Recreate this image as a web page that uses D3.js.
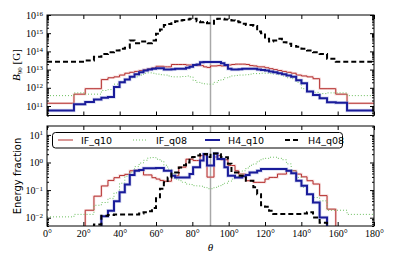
<!DOCTYPE html>
<html>
<head>
<meta charset="utf-8">
<script src="https://cdn.jsdelivr.net/npm/d3@7"></script>
<style>
  body { margin: 0; background: #fff; }
  svg { display: block; }
  .tick text { font-family: "Liberation Serif", "DejaVu Serif", serif; font-size: 10px; fill: #000; }
  .legend text { font-family: "DejaVu Sans", sans-serif; font-size: 9.5px; }
</style>
</head>
<body>
<svg id="chart" width="395" height="263"></svg>
<script>
// bin edges in theta (deg), read from the step positions
const edges = [0, 14.84, 21.04, 25.84, 29.93, 33.56, 36.87, 39.94, 42.83, 45.57, 48.19, 50.70, 53.13,
  55.48, 57.77, 60.00, 62.18, 64.32, 66.42, 68.49, 70.53, 72.54, 74.53, 76.51, 78.46, 80.41, 82.34,
  84.26, 86.18, 88.09, 90, 91.91, 93.82, 95.74, 97.66, 99.59, 101.54, 103.49, 105.47, 107.46, 109.47,
  111.51, 113.58, 115.68, 117.82, 120.00, 122.23, 124.52, 126.87, 129.30, 131.81, 134.43, 137.17,
  140.06, 143.13, 146.44, 150.07, 154.16, 158.96, 165.16, 180];

// top panel: log10 of B_90 [G] per bin
const bIFq10 = [11.15, 11.65, 11.95, 11.95, 12.45, 12.55, 12.6, 12.7, 12.8, 12.85, 12.9, 12.95, 13.0, 13.05,
  13.1, 13.18, 13.18, 13.15, 13.15, 13.28, 13.28, 13.28, 13.28, 13.25, 13.25, 13.25, 13.22, 13.22, 13.15, 13.12,
  13.2, 13.2, 13.22, 13.2, 13.2, 13.25, 13.28, 13.3, 13.3, 13.3, 13.28, 13.22, 13.2, 13.15, 13.15, 13.1, 13.05,
  13.0, 12.95, 12.9, 12.85, 12.8, 12.7, 12.65, 12.6, 12.5, 11.95, 11.95, 11.65, 11.15];
const bIFq08 = [11.57, 11.72, 11.65, 11.65, 11.85, 11.9, 12.2, 12.35, 12.45, 12.55, 12.6, 12.7, 12.8, 12.82,
  12.8, 12.75, 12.72, 12.7, 12.65, 12.6, 12.6, 12.6, 12.62, 12.65, 12.6, 12.4, 12.3, 12.25, 12.22, 12.2,
  12.2, 12.3, 12.4, 12.45, 12.55, 12.6, 12.65, 12.68, 12.7, 12.7, 12.72, 12.75, 12.78, 12.78, 12.8, 12.8, 12.78,
  12.75, 12.72, 12.65, 12.55, 12.5, 12.3, 11.95, 11.8, 11.75, 11.68, 11.72, 11.72, 11.57];
const bH4q10 = [10.75, 11.1, 11.22, 11.35, 11.45, 11.5, 12.05, 12.3, 12.45, 12.6, 12.75, 12.85, 12.95, 13.0,
  13.05, 13.08, 13.08, 13.0, 13.0, 13.02, 13.05, 13.05, 13.05, 13.1, 13.15, 13.25, 13.28, 13.4, 13.42, 13.42,
  13.42, 13.42, 13.42, 13.35, 13.25, 13.05, 13.0, 13.0, 13.02, 13.05, 13.05, 13.05, 13.05, 13.0, 12.98, 12.95,
  12.9, 12.85, 12.8, 12.75, 12.68, 12.6, 12.42, 12.25, 11.8, 11.6, 11.42, 11.2, 11.18, 10.75];
const bH4q08 = [13.43, 13.43, 13.5, 13.7, 13.85, 13.95, 14.05, 14.15, 14.2, 14.6, 14.45, 14.55, 14.55, 14.45,
  14.6, 14.97, 15.2, 15.45, 15.5, 15.55, 15.65, 15.7, 15.72, 15.75, 15.8, 15.8, 15.65, 15.6, 15.62, 15.55,
  15.52, 15.78, 15.8, 15.8, 15.75, 15.72, 15.7, 15.65, 15.6, 15.52, 15.45, 15.45, 15.4, 15.1, 15.0, 14.7, 14.55,
  14.6, 14.7, 14.5, 14.42, 14.3, 14.25, 14.15, 14.05, 13.95, 13.85, 13.6, 13.43, 13.43];

// bottom panel: log10 of energy fraction per bin (-3 = below the axis)
const eIFq10 = [-3, -3, -1.73, -1.22, -0.85, -0.65, -0.55, -0.47, -0.43, -0.3, -0.28, -0.27, -0.45, -0.45,
  -0.55, -0.6, -0.65, -0.68, -0.68, -0.48, -0.48, -0.17, -0.17, 0.12, 0.12, 0.07, 0.07, 0.25, 0.25, -0.53,
  -0.53, 0.2, 0.25, 0.1, 0.1, -0.11, -0.11, -0.3, -0.42, -0.42, -0.66, -0.66, -0.72, -0.72, -0.72, -0.6, -0.54,
  -0.54, -0.42, -0.42, -0.3, -0.3, -0.42, -0.52, -0.66, -0.78, -1.2, -1.69, -3, -3];
const eIFq08 = [-1.97, -1.88, -1.88, -1.55, -1.45, -1.3, -1.1, -0.75, -0.5, -0.35, -0.15, -0.02, 0.08, 0.17,
  0.18, 0.12, 0.05, -0.1, -0.24, -0.4, -0.6, -0.66, -0.72, -0.78, -0.8, -0.84, -0.85, -0.86, -0.9, -0.95,
  -0.95, -0.9, -0.86, -0.8, -0.75, -0.68, -0.6, -0.54, -0.45, -0.3, -0.2, -0.1, -0.05, 0.05, 0.13, 0.15, 0.19,
  0.19, 0.15, 0.1, -0.05, -0.3, -0.54, -0.9, -1.15, -1.27, -1.39, -1.73, -1.73, -1.88];
const eH4q10 = [-3, -3, -3, -3, -1.95, -1.75, -1.4, -1.08, -0.8, -0.45, -0.3, -0.27, -0.21, -0.21, -0.21,
  -0.2, -0.2, -0.3, -0.3, -0.48, -0.54, -0.54, -0.54, -0.54, -0.42, -0.17, -0.17, 0.07, 0.31, -0.11,
  -0.11, 0.33, 0.13, 0.13, -0.17, -0.48, -0.48, -0.54, -0.54, -0.5, -0.45, -0.36, -0.36, -0.3, -0.24, -0.24,
  -0.24, -0.24, -0.24, -0.24, -0.3, -0.39, -0.66, -0.84, -1.15, -1.45, -1.99, -3, -3, -3];
const eH4q08 = [-3, -3, -3, -2.25, -1.93, -1.9, -1.88, -1.88, -1.88, -1.88, -1.88, -1.85, -1.8, -1.77, -1.65,
  -1.3, -0.95, -0.72, -0.54, -0.4, -0.36, -0.18, -0.1, 0.0, 0.19, 0.2, 0.25, 0.3, 0.31, 0.2,
  0.33, 0.33, 0.3, 0.2, 0.19, -0.05, -0.36, -0.36, -0.48, -0.48, -0.66, -0.66, -0.9, -1.15, -1.55, -1.6,
  -1.75, -1.87, -1.87, -1.87, -1.87, -1.87, -1.87, -1.85, -1.8, -1.99, -2.18, -3, -3, -3];

const xTicks = [0, 20, 40, 60, 80, 100, 120, 140, 160, 180];
const topMajor = [1e11, 1e12, 1e13, 1e14, 1e15, 1e16];
const botMajor = [1e-2, 1e-1, 1e0, 1e1];

const series = [
  { name: "IF_q10", top: bIFq10, bot: eIFq10, color: "#b5302f", width: 1, dash: null, halo: "#eab4b4" },
  { name: "IF_q08", top: bIFq08, bot: eIFq08, color: "#6cbf5f", width: 1, dash: "1,2", halo: null },
  { name: "H4_q10", top: bH4q10, bot: eH4q10, color: "#1a1c9a", width: 2, dash: null, halo: "#a4aae0" },
  { name: "H4_q08", top: bH4q08, bot: eH4q08, color: "#000", width: 2, dash: "5,3", halo: null }
];

const svg = d3.select("#chart");
const L = 47, R = 374;
const x = d3.scaleLinear().domain([0, 180]).range([L, R]);

const panels = [
  { key: "top", y: d3.scaleLog().domain([3e10, 1e16]).range([115.5, 15]), t: 15, b: 115.5, majors: topMajor, labels: false },
  { key: "bot", y: d3.scaleLog().domain([5e-3, 21]).range([226, 126]), t: 126, b: 226, majors: botMajor, labels: true }
];

function minors(y) {
  const [lo, hi] = y.domain();
  const out = [];
  for (let e = Math.floor(Math.log10(lo)); e <= Math.ceil(Math.log10(hi)); e++)
    for (let m = 2; m <= 9; m++) {
      const v = m * Math.pow(10, e);
      if (v >= lo && v <= hi) out.push(v);
    }
  return out;
}

function powLabel(sel) {
  sel.each(function(d) {
    const e = Math.round(Math.log10(d));
    const t = d3.select(this).text(null);
    t.append("tspan").text("10");
    t.append("tspan").attr("dy", "-0.45em").attr("font-size", "7px")
      .text(e < 0 ? "\u2212" + (-e) : e);
  });
}

panels.forEach((p, pi) => {
  const g = svg.append("g");
  const clipId = "clip" + pi;
  svg.append("clipPath").attr("id", clipId)
    .append("rect").attr("x", L).attr("y", p.t).attr("width", R - L).attr("height", p.b - p.t);

  // grey line at 90 degrees
  g.append("line")
    .attr("x1", x(90)).attr("x2", x(90)).attr("y1", p.t).attr("y2", p.b)
    .attr("stroke", "#a8a8a8").attr("stroke-width", 1.5);

  const line = d3.line()
    .x(d => x(d[0])).y(d => p.y(Math.pow(10, d[1])))
    .curve(d3.curveStepAfter);

  const lines = g.append("g").attr("clip-path", `url(#${clipId})`);
  series.forEach(s => {
    const vals = s[p.key];
    const pts = vals.map((v, i) => [edges[i], v]);
    pts.push([edges[edges.length - 1], vals[vals.length - 1]]);
    if (s.halo) {
      lines.append("path").datum(pts).attr("d", line)
        .attr("fill", "none").attr("stroke", s.halo).attr("stroke-width", s.width + 1.5).attr("opacity", 0.45);
    }
    lines.append("path").datum(pts).attr("d", line)
      .attr("fill", "none").attr("stroke", s.color).attr("stroke-width", s.width)
      .attr("stroke-dasharray", s.dash);
  });

  // axes with inward ticks
  const ax = (a, tx, ty) => g.append("g").attr("transform", `translate(${tx},${ty})`).call(a)
    .call(s => s.select(".domain").remove())
    .call(s => s.selectAll(".tick line").attr("stroke", "#000"));

  ax(d3.axisBottom(x).tickValues(xTicks).tickSize(-4).tickPadding(4)
    .tickFormat(d => p.labels ? d + "\u00b0" : ""), 0, p.b);
  ax(d3.axisTop(x).tickValues(xTicks).tickSize(-4).tickFormat(""), 0, p.t);

  const yl = ax(d3.axisLeft(p.y).tickValues(p.majors).tickSize(-4).tickPadding(4), L, 0);
  yl.selectAll(".tick text").call(powLabel);
  ax(d3.axisLeft(p.y).tickValues(minors(p.y)).tickSize(-2).tickFormat(""), L, 0);
  ax(d3.axisRight(p.y).tickValues(p.majors).tickSize(-4).tickFormat(""), R, 0);
  ax(d3.axisRight(p.y).tickValues(minors(p.y)).tickSize(-2).tickFormat(""), R, 0);

  g.append("rect").attr("x", L).attr("y", p.t).attr("width", R - L).attr("height", p.b - p.t)
    .attr("fill", "none").attr("stroke", "#000").attr("stroke-width", 1);
});

// axis titles
const yt = svg.append("text")
  .attr("transform", "translate(20,65) rotate(-90)")
  .attr("text-anchor", "middle")
  .attr("font-family", "Liberation Serif, DejaVu Serif, serif").attr("font-size", 11);
yt.append("tspan").attr("font-style", "italic").text("B");
yt.append("tspan").attr("font-size", 7).attr("dy", 2).text("90");
yt.append("tspan").attr("dy", -2).text(" [G]");

svg.append("text")
  .attr("transform", "translate(21,176) rotate(-90)")
  .attr("text-anchor", "middle")
  .attr("font-family", "DejaVu Sans, sans-serif").attr("font-size", 10)
  .text("Energy fraction");

svg.append("text")
  .attr("x", x(90)).attr("y", 251)
  .attr("text-anchor", "middle")
  .attr("font-family", "Liberation Serif, DejaVu Serif, serif").attr("font-style", "italic").attr("font-size", 11)
  .text("\u03b8");

// legend
const lg = svg.append("g").attr("class", "legend");
lg.append("rect").attr("x", 52.5).attr("y", 132.5).attr("width", 290).attr("height", 15.5)
  .attr("rx", 3).attr("fill", "#fff").attr("stroke", "#000").attr("stroke-width", 1);
const lx = [58, 133, 205, 285];
series.forEach((s, i) => {
  lg.append("line").attr("x1", lx[i]).attr("x2", lx[i] + 15).attr("y1", 140).attr("y2", 140)
    .attr("stroke", s.color).attr("stroke-width", s.width).attr("stroke-dasharray", s.dash);
  lg.append("text").attr("x", lx[i] + 23).attr("y", 143.5).text(s.name);
});
</script>
</body>
</html>
